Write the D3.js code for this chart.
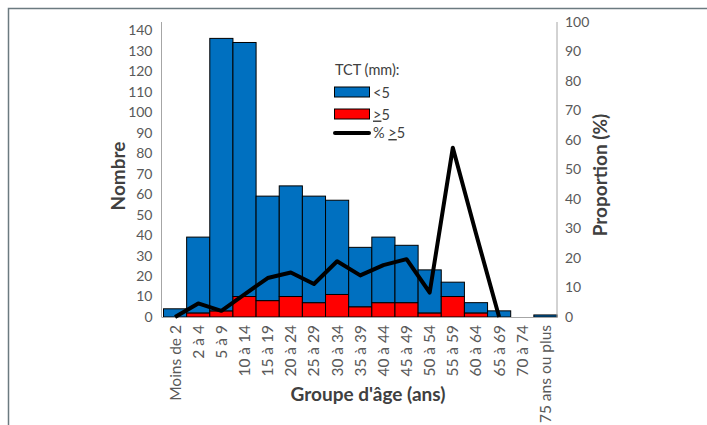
<!DOCTYPE html>
<html>
<head>
<meta charset="utf-8">
<script src="https://cdn.jsdelivr.net/npm/d3@7"></script>
<style>
  html, body { margin: 0; padding: 0; background: #fff; }
  svg { display: block; font-family: Lato, "Open Sans", sans-serif; }
</style>
</head>
<body>
<svg id="chart" width="707" height="425"></svg>
<script>
const categories = ["Moins de 2","2 à 4","5 à 9","10 à 14","15 à 19","20 à 24","25 à 29","30 à 34","35 à 39","40 à 44","45 à 49","50 à 54","55 à 59","60 à 64","65 à 69","70 à 74","75 ans ou plus"];
const seriesBelow5 = [4,37,133,124,51,54,52,46,29,32,28,21,7,5,3,0,1];
const seriesAbove5 = [0,2,3,10,8,10,7,11,5,7,7,2,10,2,0,0,0];
const pctAbove5 = [0,4.6,2.1,7.7,13.2,15.1,11.2,18.9,14.1,17.6,19.6,8.3,57.4,28.3,0,null,null];
const leftTicks = [0,10,20,30,40,50,60,70,80,90,100,110,120,130,140];
const rightTicks = [0,10,20,30,40,50,60,70,80,90,100];

const svg = d3.select("#chart");
const L = 163.5, R = 557, T = 22, B = 317;

// outer frame
svg.append("rect").attr("x", 8.5).attr("y", 8.5).attr("width", 720).attr("height", 440)
  .attr("fill", "none").attr("stroke", "#6b7a80").attr("stroke-width", 1.5);

const x = d3.scaleBand().domain(categories).range([L, R]).paddingInner(0).paddingOuter(0);
const yL = d3.scaleLinear().domain([0, 144]).range([B, T]);
const yR = d3.scaleLinear().domain([0, 100]).range([B, T]);

const data = categories.map((c, i) => ({cat: c, red: seriesAbove5[i], blue: seriesBelow5[i], pct: pctAbove5[i]}));

// bars: red at bottom, blue stacked above
const g = svg.append("g");
data.forEach(d => {
  if (d.red > 0) {
    g.append("rect").attr("x", x(d.cat)).attr("width", x.bandwidth())
      .attr("y", yL(d.red)).attr("height", yL(0) - yL(d.red))
      .attr("fill", "#FF0000").attr("stroke", "#000").attr("stroke-width", 1);
  }
  if (d.blue > 0) {
    g.append("rect").attr("x", x(d.cat)).attr("width", x.bandwidth())
      .attr("y", yL(d.red + d.blue)).attr("height", yL(d.red) - yL(d.red + d.blue))
      .attr("fill", "#0070C0").attr("stroke", "#000").attr("stroke-width", 1);
  }
});

// axes lines
const axisColor = "#a6a6a6";
svg.append("line").attr("x1", L - 2).attr("x2", L - 2).attr("y1", T).attr("y2", B).attr("stroke", axisColor).attr("stroke-width", 1);
svg.append("line").attr("x1", R).attr("x2", R).attr("y1", T).attr("y2", B).attr("stroke", axisColor).attr("stroke-width", 1);
svg.append("line").attr("x1", L - 2).attr("x2", R).attr("y1", B + 0.5).attr("y2", B + 0.5).attr("stroke", axisColor).attr("stroke-width", 1);

// left ticks
const axL = d3.axisLeft(yL).tickValues(leftTicks).tickSize(0).tickPadding(9);
const gL = svg.append("g").attr("transform", `translate(${L - 2},0)`).call(axL);
gL.select(".domain").remove();
gL.selectAll("text").attr("fill", "#595959").style("font-size", "14px").style("font-family", "Lato, sans-serif");

// right ticks
const axR = d3.axisRight(yR).tickValues(rightTicks).tickSize(0).tickPadding(8);
const gR = svg.append("g").attr("transform", `translate(${R},0)`).call(axR);
gR.select(".domain").remove();
gR.selectAll("text").attr("fill", "#595959").style("font-size", "14px").style("font-family", "Lato, sans-serif");

// x ticks
const axX = d3.axisBottom(x).tickSize(0).tickPadding(0);
const gX = svg.append("g").attr("transform", `translate(0,${B})`).call(axX);
gX.select(".domain").remove();
gX.selectAll("text")
  .attr("fill", "#595959").style("font-size", "15.5px").style("font-family", "Lato, sans-serif")
  .attr("transform", "rotate(-90)")
  .attr("text-anchor", "end")
  .attr("x", -8).attr("y", 0).attr("dy", "0.35em");

// line
const line = d3.line()
  .defined(d => d.pct !== null)
  .x(d => x(d.cat) + x.bandwidth() / 2)
  .y(d => yR(d.pct));
svg.append("path").datum(data.filter(d => d.pct !== null)).attr("d", line)
  .attr("fill", "none").attr("stroke", "#000").attr("stroke-width", 4)
  .attr("stroke-linejoin", "round");

// axis titles
svg.append("text").attr("transform", "translate(125,176) rotate(-90)")
  .attr("text-anchor", "middle").style("font-size", "19px").style("font-weight", "bold")
  .attr("fill", "#404040").text("Nombre");
svg.append("text").attr("transform", "translate(607,175) rotate(-90)")
  .attr("text-anchor", "middle").style("font-size", "19px").style("font-weight", "bold")
  .attr("fill", "#404040").text("Proportion (%)");
svg.append("text").attr("x", 368).attr("y", 401)
  .attr("text-anchor", "middle").style("font-size", "19px").style("font-weight", "bold")
  .attr("fill", "#404040").text("Groupe d'âge (ans)");

// legend
const lg = svg.append("g");
const fs = "14.5px";
lg.append("text").attr("x", 335).attr("y", 75).style("font-size", fs).attr("fill", "#404040").text("TCT (mm):");
lg.append("rect").attr("x", 334.5).attr("y", 87).attr("width", 35).attr("height", 10)
  .attr("fill", "#0070C0").attr("stroke", "#000").attr("stroke-width", 1);
lg.append("text").attr("x", 373).attr("y", 97.5).style("font-size", fs).attr("fill", "#404040").text("<5");
lg.append("rect").attr("x", 334.5).attr("y", 109).attr("width", 35).attr("height", 10)
  .attr("fill", "#FF0000").attr("stroke", "#000").attr("stroke-width", 1);
const t2 = lg.append("text").attr("x", 373).attr("y", 119.5).style("font-size", fs).attr("fill", "#404040");
t2.append("tspan").style("text-decoration", "underline").text(">");
t2.append("tspan").text("5");
lg.append("line").attr("x1", 335).attr("x2", 369).attr("y1", 133).attr("y2", 133)
  .attr("stroke", "#000").attr("stroke-width", 4).attr("stroke-linecap", "round");
const t3 = lg.append("text").attr("x", 373).attr("y", 138).style("font-size", fs).attr("fill", "#404040");
t3.append("tspan").text("% ");
t3.append("tspan").style("text-decoration", "underline").text(">");
t3.append("tspan").text("5");
</script>
</body>
</html>
